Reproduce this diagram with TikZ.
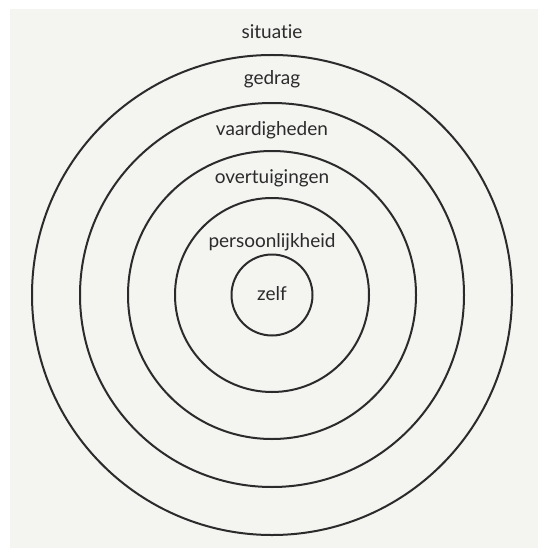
\documentclass[tikz,border=0pt]{standalone}
\usepackage{fontspec}
\setmainfont{Lato}[Ligatures=NoCommon]
\definecolor{paper}{HTML}{F4F4F1}
\definecolor{ink}{HTML}{2B2B2B}
\tikzset{
  ring/.style={draw=ink, line width=2pt, circle, inner sep=0pt},
  lbl/.style={text=ink, font=\fontsize{19}{22}\selectfont, inner sep=0pt, anchor=base}
}
\begin{document}
\begin{tikzpicture}[x=1pt,y=-1pt]
\useasboundingbox (0,0) rectangle (538,548);
\fill[white] (0,0) rectangle (538,548);
\fill[paper] (10,9) rectangle (538,548);
\coordinate (c) at (272,295);
\node[ring, minimum size=480pt] (r1) at (c) {};
\node[ring, minimum size=384pt] (r2) at (c) {};
\node[ring, minimum size=288pt] (r3) at (c) {};
\node[ring, minimum size=194pt] (r4) at (c) {};
\node[ring, minimum size=81pt] (r5) at (c) {};
\node[lbl] (t1) at (272,39) {situatie};
\node[lbl] (t2) at (272,85) {gedrag};
\node[lbl] (t3) at (272,136) {vaardigheden};
\node[lbl] (t4) at (272,183) {overtuigingen};
\node[lbl] (t5) at (272,247) {persoonlijkheid};
\node[lbl] (t6) at (272,300) {zelf};
\end{tikzpicture}
\end{document}
